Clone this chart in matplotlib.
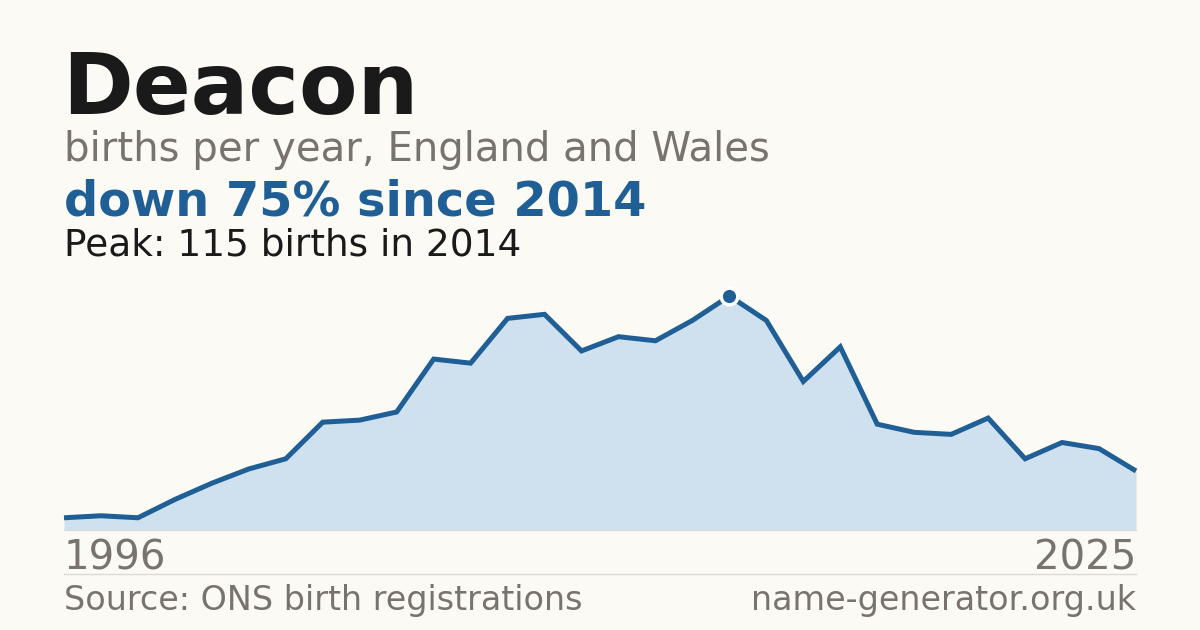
import matplotlib
matplotlib.use("Agg")
import matplotlib.pyplot as plt

# Datos
anios = list(range(1996, 2026))
nacimientos = [6, 7, 6, 15, 23, 30, 35, 53, 54, 58, 84, 82, 104, 106, 88,
               95, 93, 103, 115, 103, 73, 90, 52, 48, 47, 55, 35, 43, 40, 29]

nombre = "Deacon"
subtitulo = "births per year, England and Wales"
tendencia = "down 75% since 2014"
pico = "Peak: 115 births in 2014"
fuente = "Source: ONS birth registrations"
sitio = "name-generator.org.uk"

fondo = "#fbfaf5"
azul = "#1f5f96"
relleno = "#cfe0ef"
gris = "#78736c"

fig = plt.figure(figsize=(12, 6.3), dpi=100, facecolor=fondo)

# Area del grafico: x de 64 a 1136 px, base en y=530, pico en y=296
ax = fig.add_axes([64 / 1200, 100 / 630, 1072 / 1200, 234 / 630])
ax.set_facecolor(fondo)
ax.fill_between(anios, nacimientos, 0, color=relleno, lw=0)
ax.plot(anios, nacimientos, color=azul, lw=3.6, solid_joinstyle="miter",
        solid_capstyle="butt", clip_on=False)

# Marca del pico
i_pico = nacimientos.index(max(nacimientos))
ax.plot(anios[i_pico], nacimientos[i_pico], "o", ms=12, color=azul,
        mec="white", mew=2.5, clip_on=False, zorder=5)

ax.set_xlim(anios[0], anios[-1])
ax.set_ylim(0, max(nacimientos))
ax.axis("off")

# Lineas grises de base y separacion
fig.add_artist(plt.Line2D([64 / 1200, 1136 / 1200], [1 - 530 / 630] * 2,
                          color="#dedbd3", lw=1))
fig.add_artist(plt.Line2D([64 / 1200, 1136 / 1200], [1 - 574 / 630] * 2,
                          color="#dedbd3", lw=1))

# Textos
def px(x, y):
    return x / 1200, 1 - y / 630

fig.text(*px(62, 114), nombre, fontsize=61.5, fontweight="bold", color="#1a1a1a", va="baseline")
fig.text(*px(64, 161), subtitulo, fontsize=29, color=gris, va="baseline")
fig.text(*px(64, 215), tendencia, fontsize=34.5, fontweight="bold", color=azul, va="baseline")
fig.text(*px(64, 255), pico, fontsize=27, color="#1a1a1a", va="baseline")

fig.text(*px(64, 569), str(anios[0]), fontsize=29, color=gris, va="baseline")
fig.text(*px(1136, 569), str(anios[-1]), fontsize=29, color=gris, va="baseline", ha="right")
fig.text(*px(64, 610), fuente, fontsize=24, color=gris, va="baseline")
fig.text(*px(1136, 610), sitio, fontsize=24, color=gris, va="baseline", ha="right")

fig.savefig("out.png", dpi=100, facecolor=fondo)
